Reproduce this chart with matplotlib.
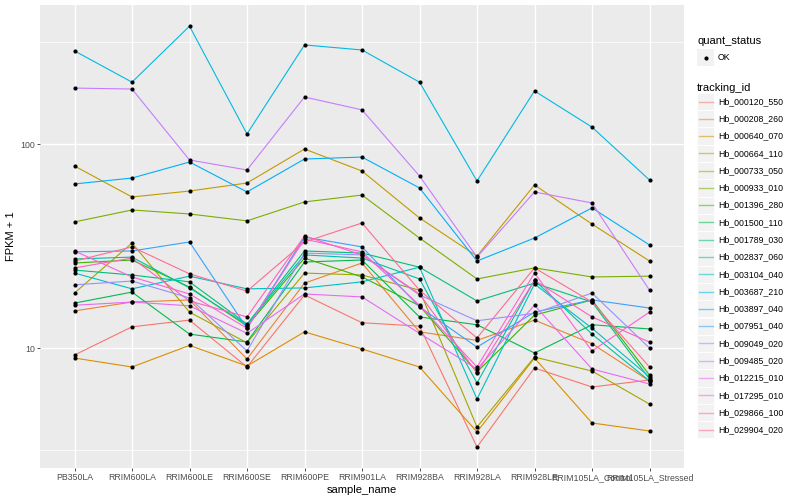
import numpy as np
import matplotlib
matplotlib.use('Agg')
import matplotlib.pyplot as plt
from matplotlib.patches import Rectangle
from matplotlib.lines import Line2D
from matplotlib.ticker import FixedLocator, NullFormatter

plt.rcParams['font.family'] = ['Liberation Sans', 'DejaVu Sans']

samples = ["PB350LA", "RRIM600LA", "RRIM600LE", "RRIM600SE", "RRIM600PE",
           "RRIM901LA", "RRIM928BA", "RRIM928LA", "RRIM928LE",
           "RRIM105LA_Control", "RRIM105LA_Stressed"]

tracking_ids = ["Hb_000120_550", "Hb_000208_260", "Hb_000640_070", "Hb_000664_110",
                "Hb_000733_050", "Hb_000933_010", "Hb_001396_280", "Hb_001500_110",
                "Hb_001789_030", "Hb_002837_060", "Hb_003104_040", "Hb_003687_210",
                "Hb_003897_040", "Hb_007951_040", "Hb_009049_020", "Hb_009485_020",
                "Hb_012215_010", "Hb_017295_010", "Hb_029866_100", "Hb_029904_020"]

Hb_000120_550 = [9.24, 12.7, 13.7, 8.07, 18.2, 13.3, 12.8, 3.27, 7.98, 6.44, 6.97]
Hb_000208_260 = [15.2, 16.8, 17.2, 8.83, 20.8, 26.1, 12.0, 10.9, 13.7, 10.5, 6.89]
Hb_000640_070 = [8.93, 8.07, 10.3, 8.16, 12.0, 9.89, 8.07, 3.88, 8.93, 4.29, 3.92]
Hb_000664_110 = [78.0, 55.0, 58.8, 64.4, 94.5, 73.7, 43.4, 28.2, 63.0, 40.5, 26.7]
Hb_000733_050 = [18.6, 32.7, 15.0, 10.6, 23.3, 22.8, 19.2, 4.10, 9.03, 7.71, 5.31]
Hb_000933_010 = [41.5, 47.5, 45.4, 42.0, 52.0, 56.2, 34.6, 21.8, 24.7, 22.3, 22.5]
Hb_001396_280 = [26.1, 27.0, 19.9, 12.8, 27.6, 22.3, 16.1, 7.63, 14.5, 17.2, 7.37]
Hb_001500_110 = [16.6, 18.8, 11.7, 10.7, 26.4, 27.0, 14.2, 13.0, 9.45, 13.0, 12.4]
Hb_001789_030 = [24.1, 22.8, 21.1, 13.1, 29.9, 29.2, 24.9, 17.0, 20.8, 16.8, 7.05]
Hb_002837_060 = [27.3, 27.9, 19.7, 13.0, 28.6, 27.6, 21.8, 6.74, 21.5, 11.7, 6.89]
Hb_003104_040 = [23.3, 19.5, 22.5, 19.5, 19.7, 21.1, 24.9, 5.62, 20.6, 12.5, 7.21]
Hb_003687_210 = [286.0, 201.0, 378.0, 112.0, 306.0, 289.0, 201.0, 65.9, 182.0, 121.0, 66.6]
Hb_003897_040 = [63.7, 68.1, 81.6, 58.2, 84.4, 86.3, 60.9, 26.7, 34.6, 48.6, 32.0]
Hb_007951_040 = [29.6, 29.9, 33.1, 12.5, 35.0, 31.3, 15.9, 10.1, 15.0, 17.2, 15.7]
Hb_009049_020 = [20.4, 21.3, 17.6, 9.67, 29.2, 28.6, 18.2, 13.6, 14.8, 18.6, 10.0]
Hb_009485_020 = [188.0, 186.0, 83.5, 74.6, 170.0, 147.0, 69.7, 27.9, 58.2, 51.4, 19.2]
Hb_012215_010 = [16.2, 16.8, 16.1, 11.8, 18.4, 17.8, 11.8, 7.89, 16.2, 7.89, 6.66]
Hb_017295_010 = [29.9, 22.3, 18.4, 12.5, 34.2, 29.6, 16.2, 8.07, 23.3, 9.67, 15.0]
Hb_029866_100 = [24.7, 27.6, 17.0, 14.2, 35.4, 28.6, 18.4, 7.54, 21.5, 14.2, 10.7]
Hb_029904_020 = [26.7, 31.3, 23.1, 19.0, 33.1, 41.0, 19.2, 11.2, 24.7, 16.8, 8.07]

series = [Hb_000120_550, Hb_000208_260, Hb_000640_070, Hb_000664_110, Hb_000733_050,
          Hb_000933_010, Hb_001396_280, Hb_001500_110, Hb_001789_030, Hb_002837_060,
          Hb_003104_040, Hb_003687_210, Hb_003897_040, Hb_007951_040, Hb_009049_020,
          Hb_009485_020, Hb_012215_010, Hb_017295_010, Hb_029866_100, Hb_029904_020]

colors = ["#F8766D", "#EA8331", "#D89000", "#C09B00", "#A3A500", "#7CAE00", "#39B600",
          "#00BB4E", "#00BF7D", "#00C1A3", "#00BFC4", "#00BAE0", "#00B0F6", "#35A2FF",
          "#9590FF", "#C77CFF", "#E76BF3", "#FA62DB", "#FF62BC", "#FF6C91"]

W, H = 800, 500
fig = plt.figure(figsize=(8, 5), dpi=100)
fig.patch.set_facecolor('white')
ax = fig.add_axes([40 / W, 1 - 468 / H, (684 - 40) / W, (468 - 5) / H])
ax.set_facecolor('#EBEBEB')
for s in ax.spines.values():
    s.set_visible(False)

x = np.arange(len(samples))
for vals, c in zip(series, colors):
    ax.plot(x, vals, color=c, lw=0.8, zorder=3, solid_capstyle='butt')
for vals in series:
    ax.plot(x, vals, 'o', color='black', ms=3.0, zorder=4, mew=0)

ax.set_yscale('log')
ax.set_xlim(-0.6, len(samples) - 1 + 0.6)
ax.set_ylim(10 ** 0.4118, 10 ** 2.6814)
ax.set_yticks([10, 100])
ax.set_yticklabels(['10', '100'])
ax.yaxis.set_minor_locator(FixedLocator([10 ** 0.5, 10 ** 1.5, 10 ** 2.5]))
ax.yaxis.set_minor_formatter(NullFormatter())
ax.set_xticks(x)
ax.set_xticklabels(samples)
ax.tick_params(axis='both', which='major', length=2.2, width=0.6, color='#333333',
               labelcolor='#4D4D4D', labelsize=6.3, pad=1.5)
ax.tick_params(axis='y', which='minor', length=0)
ax.grid(which='major', color='white', lw=1.0, zorder=0)
ax.grid(which='minor', axis='y', color='white', lw=0.5, zorder=0)
ax.set_axisbelow(True)
ax.set_xlabel('sample_name', fontsize=8, color='black', labelpad=2)
ax.set_ylabel('FPKM + 1', fontsize=8, color='black', labelpad=3)


def fx(px):
    return px / W


def fy(py):
    return 1 - py / H


# legend: quant_status
fig.text(fx(697), fy(41), 'quant_status', fontsize=8, va='center', ha='left')
fig.patches.append(Rectangle((fx(697), fy(66)), 17 / W, 17 / H, transform=fig.transFigure,
                             facecolor='#F2F2F2', edgecolor='none'))
fig.lines.append(Line2D([fx(705.5)], [fy(57.5)], marker='o', color='black', ms=3.0, mew=0,
                        transform=fig.transFigure))
fig.text(fx(718), fy(57.5), 'OK', fontsize=6.3, va='center', ha='left')

# legend: tracking_id
fig.text(fx(697), fy(88), 'tracking_id', fontsize=8, va='center', ha='left')
step = 17.28
for i, (tid, c) in enumerate(zip(tracking_ids, colors)):
    yc = 101.5 + step * i
    fig.patches.append(Rectangle((fx(697), fy(yc + 8.6)), 17.2 / W, 17.2 / H,
                                 transform=fig.transFigure, facecolor='#F2F2F2',
                                 edgecolor='white', lw=0.6))
    fig.lines.append(Line2D([fx(698.5), fx(712.5)], [fy(yc), fy(yc)], color=c, lw=1.0,
                            alpha=0.55, transform=fig.transFigure))
    fig.text(fx(718), fy(yc), tid, fontsize=6.3, va='center', ha='left')

fig.savefig('out.png', dpi=100)
